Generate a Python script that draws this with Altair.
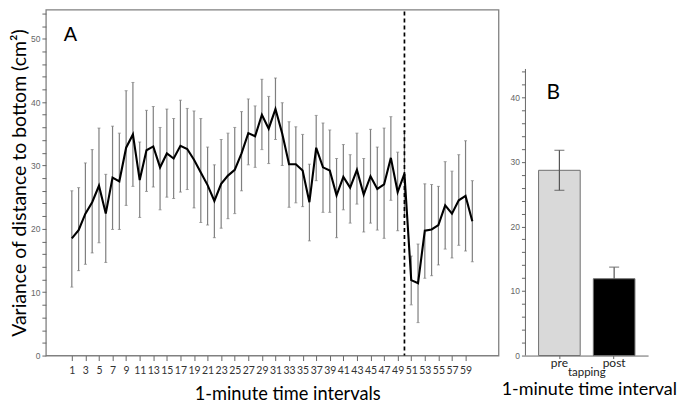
import altair as alt
import pandas as pd

# ---------------- data ----------------
minutes = list(range(1, 61))
mean_var = [18.5, 19.8, 22.4, 24.2, 26.8, 22.4, 28.1, 27.5, 32.8, 34.9,
            27.7, 32.4, 33.0, 29.7, 31.9, 31.1, 33.1, 32.6, 30.9, 28.9,
            26.9, 24.4, 27.1, 28.4, 29.3, 31.9, 35.1, 34.6, 38.0, 35.8,
            38.9, 35.0, 30.2, 30.2, 29.2, 24.2, 32.8, 29.7, 29.2, 25.3,
            28.2, 26.5, 29.3, 25.4, 28.3, 26.3, 27.0, 31.2, 25.8, 28.7,
            11.9, 11.4, 19.7, 19.9, 20.6, 23.7, 22.4, 24.5, 25.2, 21.2]
upper_var = [26.0, 26.5, 30.4, 32.5, 35.9, 28.6, 36.2, 35.1, 41.8, 43.1,
             33.7, 38.7, 39.3, 36.0, 38.9, 37.4, 40.3, 39.0, 38.6, 37.4,
             32.9, 30.1, 34.1, 35.1, 36.0, 38.5, 40.5, 39.4, 43.6, 40.9,
             43.8, 39.9, 36.9, 36.1, 34.9, 30.2, 37.9, 36.7, 35.6, 31.1,
             33.3, 31.7, 35.1, 31.1, 35.7, 32.9, 35.9, 37.7, 32.1, 35.4,
             15.7, 17.6, 27.1, 27.0, 26.7, 30.6, 29.1, 31.7, 33.9, 27.6]
lower_var = [10.8, 13.4, 14.4, 16.2, 17.8, 14.7, 19.9, 19.9, 23.7, 26.7,
             21.8, 25.9, 26.6, 23.0, 25.0, 24.8, 25.8, 26.2, 23.3, 21.0,
             20.6, 18.6, 20.1, 21.6, 22.4, 26.0, 30.1, 29.7, 32.5, 30.3,
             34.1, 30.0, 23.4, 24.1, 23.5, 18.1, 27.6, 22.6, 22.6, 18.6,
             23.0, 20.9, 23.9, 19.5, 20.9, 19.8, 18.5, 24.5, 19.7, 22.0,
             8.0, 5.2, 12.2, 12.6, 14.3, 16.8, 15.4, 17.4, 16.5, 14.8]
tick_minutes = list(range(1, 60, 2))
tapping_minute = [50]
y_ticks_a = list(range(0, 55, 2))

group_labels = ["pre", "post"]
group_means = [28.7, 11.9]
group_upper = [31.8, 13.7]
group_lower = [25.6, 11.9]
y_ticks_b = list(range(0, 45, 2))
axis_top_b = [0, 44.4]

FONT = "Lato"
GRAY = "#7f7f7f"

# ---------------- panel A ----------------
dfa = pd.DataFrame({"minute": minutes, "mean": mean_var, "hi": upper_var, "lo": lower_var})
WA, HA = 454, 347

xscale_a = alt.Scale(domain=[-2.82, 63.86], nice=False, zero=False)
yscale_a = alt.Scale(domain=[0, 54.6], nice=False)
xaxis_a = alt.Axis(values=tick_minutes, title="1-minute time intervals", grid=False,
                   domain=False, tickColor="#666", tickSize=5, tickWidth=1,
                   labelFontSize=10.5, labelFont=FONT, labelColor="#333333",
                   labelPadding=5, labelOverlap=False, labelFlush=False,
                   titleFont=FONT, titleFontSize=18.3, titleFontWeight="normal",
                   titleColor="black", titleX=242, titleY=44,
                   titleBaseline="alphabetic", titleAlign="center")
yaxis_a = alt.Axis(values=y_ticks_a, labelExpr="datum.value % 10 === 0 ? datum.label : ''",
                   title="Variance of distance to bottom (cm²)", grid=False, domain=False,
                   tickSize=4, tickColor="#666", labelFontSize=8.5, labelColor="#666",
                   labelFont="Liberation Sans", labelPadding=2,
                   titleFont=FONT, titleFontSize=19.5, titleFontWeight="normal",
                   titleColor="black", titlePadding=1)

base_a = alt.Chart(dfa)
err_a = base_a.mark_rule(color=GRAY, strokeWidth=1.2).encode(
    x=alt.X("minute:Q", scale=xscale_a, axis=xaxis_a),
    y=alt.Y("lo:Q", scale=yscale_a, axis=yaxis_a),
    y2="hi:Q",
)
cap_hi_a = base_a.mark_tick(orient="horizontal", color=GRAY, size=3, thickness=1).encode(
    x=alt.X("minute:Q", scale=xscale_a, axis=xaxis_a),
    y=alt.Y("hi:Q", scale=yscale_a, axis=yaxis_a),
)
cap_lo_a = base_a.mark_tick(orient="horizontal", color=GRAY, size=3, thickness=1).encode(
    x=alt.X("minute:Q", scale=xscale_a, axis=xaxis_a),
    y=alt.Y("lo:Q", scale=yscale_a, axis=yaxis_a),
)
line_a = base_a.mark_line(color="black", strokeWidth=2.1).encode(
    x=alt.X("minute:Q", scale=xscale_a, axis=xaxis_a),
    y=alt.Y("mean:Q", scale=yscale_a, axis=yaxis_a),
)
vline_a = alt.Chart(pd.DataFrame({"m": tapping_minute})).mark_rule(
    color="black", strokeDash=[4, 3], strokeWidth=1.7
).encode(
    x=alt.X("m:Q", scale=xscale_a, axis=xaxis_a),
    y=alt.value(2), y2=alt.value(HA),
)
label_a = alt.Chart(pd.DataFrame({"t": ["A"]})).mark_text(
    align="left", baseline="alphabetic", fontSize=20, font="Liberation Sans", color="black"
).encode(text="t:N", x=alt.value(18), y=alt.value(32))

panel_a = alt.layer(err_a, cap_hi_a, cap_lo_a, line_a, vline_a, label_a).properties(
    width=WA, height=HA,
    view=alt.ViewBackground(stroke="#808080", strokeWidth=1.3),
)

# ---------------- panel B ----------------
dfb = pd.DataFrame({"g": group_labels, "v": group_means, "hi": group_upper, "lo": group_lower})
WB, HB = 123, 347
xscale_b = alt.Scale(domain=group_labels, paddingInner=0.24, paddingOuter=0.24)
yscale_b = alt.Scale(domain=[0, 53.6], nice=False)
xaxis_b = alt.Axis(title="tapping", labelAngle=0, labelAlign="center", domainColor="#666",
                   tickColor="#666", tickSize=3, labelFontSize=12, labelFont=FONT,
                   labelColor="#222", labelPadding=-1, titleFont=FONT, titleFontSize=11.5,
                   titleFontWeight="normal", titleColor="#222",
                   titleBaseline="alphabetic", titleY=20, titleX=61, titleAlign="center")
yaxis_b = alt.Axis(values=y_ticks_b, labelExpr="datum.value % 10 === 0 ? datum.label : ''",
                   title=None, grid=False, domain=False, tickSize=4, tickColor="#666",
                   labelFontSize=8.5, labelColor="#666", labelFont="Liberation Sans",
                   labelPadding=2)

base_b = alt.Chart(dfb)
bars_b = base_b.mark_bar(stroke="#6e6e6e", strokeWidth=1).encode(
    x=alt.X("g:N", sort=group_labels, scale=xscale_b, axis=xaxis_b),
    y=alt.Y("v:Q", scale=yscale_b, axis=yaxis_b),
    fill=alt.Fill("g:N", scale=alt.Scale(domain=group_labels, range=["#d9d9d9", "#000000"]),
                  legend=None),
)
err_b = base_b.mark_rule(color="#555", strokeWidth=1.2).encode(
    x=alt.X("g:N", sort=group_labels, scale=xscale_b, axis=xaxis_b),
    y=alt.Y("lo:Q", scale=yscale_b, axis=yaxis_b),
    y2="hi:Q",
)
cap_hi_b = base_b.mark_tick(orient="horizontal", color="#555", size=10, thickness=1.2).encode(
    x=alt.X("g:N", sort=group_labels, scale=xscale_b, axis=xaxis_b),
    y=alt.Y("hi:Q", scale=yscale_b, axis=yaxis_b),
)
cap_lo_b = base_b.transform_filter("datum.lo < datum.v").mark_tick(
    orient="horizontal", color="#555", size=10, thickness=1.2
).encode(
    x=alt.X("g:N", sort=group_labels, scale=xscale_b, axis=xaxis_b),
    y=alt.Y("lo:Q", scale=yscale_b, axis=yaxis_b),
)
yline_b = alt.Chart(pd.DataFrame({"yy": axis_top_b})).mark_line(
    color="#666", strokeWidth=1
).encode(x=alt.value(0), y=alt.Y("yy:Q", scale=yscale_b, axis=yaxis_b))
label_b = alt.Chart(pd.DataFrame({"t": ["B"]})).mark_text(
    align="left", baseline="alphabetic", fontSize=21, font=FONT, color="black"
).encode(text="t:N", x=alt.value(21), y=alt.value(90))
title_b = alt.Chart(pd.DataFrame({"t": ["1-minute time interval"]})).mark_text(
    align="center", baseline="alphabetic", fontSize=18, font=FONT, color="black"
).encode(text="t:N", x=alt.value(64), y=alt.value(387))

panel_b = alt.layer(bars_b, err_b, cap_hi_b, cap_lo_b, yline_b, label_b, title_b).properties(
    width=WB, height=HB,
    view=alt.ViewBackground(strokeWidth=0),
)

chart = alt.hconcat(panel_a, panel_b, spacing=27, bounds="flush").properties(
    padding={"left": 0, "top": 0, "right": 0, "bottom": 0},
    background="white",
)

chart.save("out.html", embed_options={"renderer": "svg", "actions": False})
